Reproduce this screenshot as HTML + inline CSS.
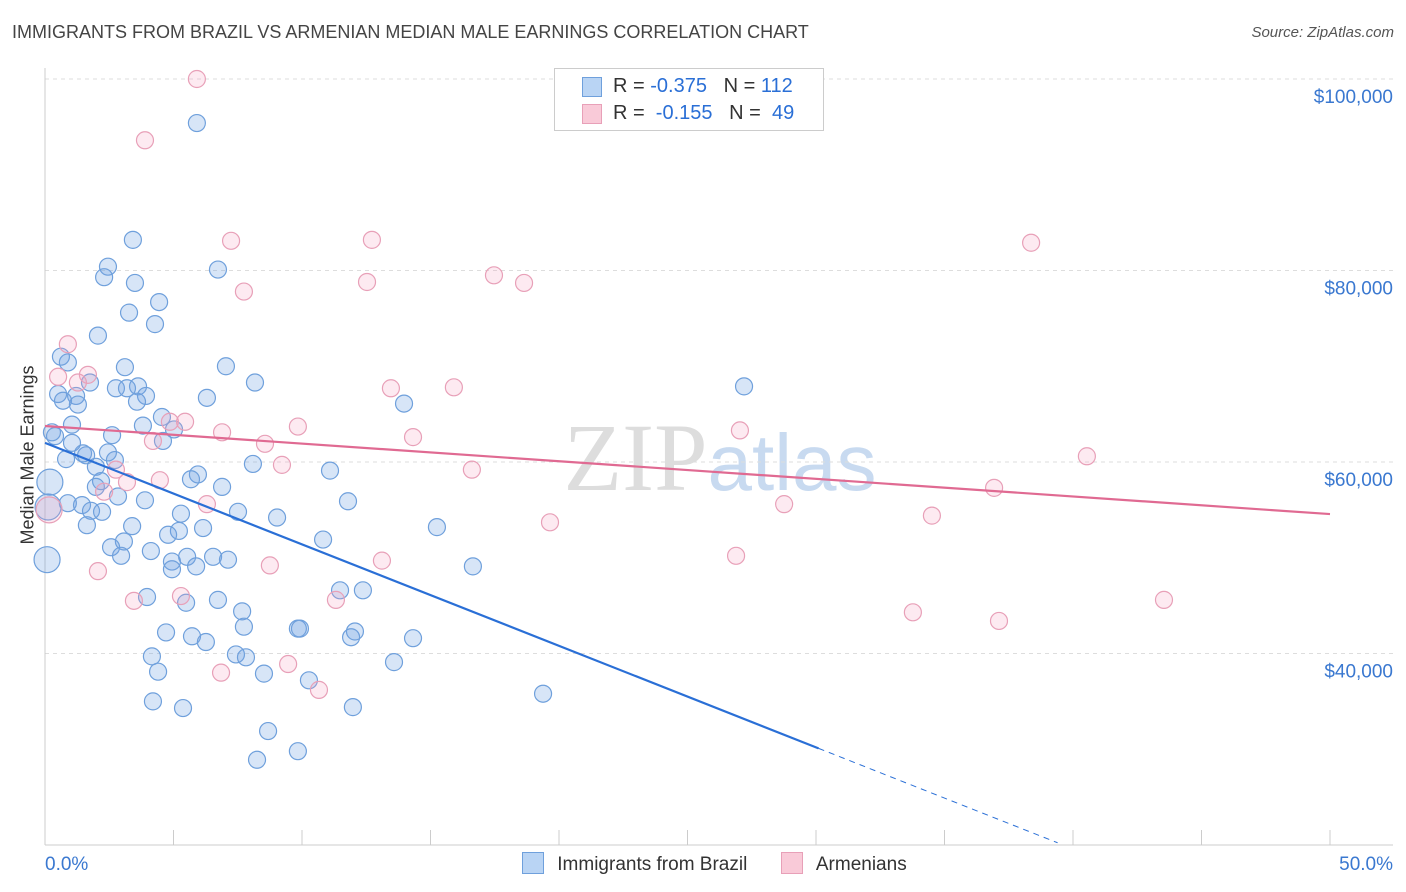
<!DOCTYPE html>
<html><head><meta charset="utf-8">
<style>
body{margin:0;background:#fff;font-family:"Liberation Sans",sans-serif;}
#wrap{position:relative;width:1406px;height:892px;overflow:hidden;}
.t{position:absolute;white-space:nowrap;}
</style></head>
<body><div id="wrap">
<div class="t" style="left:12px;top:22px;font-size:18px;color:#444;">IMMIGRANTS FROM BRAZIL VS ARMENIAN MEDIAN MALE EARNINGS CORRELATION CHART</div>
<div class="t" style="right:12px;top:24px;font-size:15px;color:#555;font-style:italic;">Source: ZipAtlas.com</div>
<svg id="svg" width="1406" height="892" style="position:absolute;left:0;top:0">
<text x="720" y="490" text-anchor="middle" font-size="96" font-family="Liberation Serif" fill="#ddd">ZIP<tspan fill="#c8daf0" font-family="Liberation Sans" font-size="80">atlas</tspan></text>
</svg>
<div class="t" style="left:28px;top:455px;font-size:18px;color:#333;transform:translate(-50%,-50%) rotate(-90deg);">Median Male Earnings</div>
<div style="position:absolute;left:554px;top:68px;width:268px;height:61px;border:1px solid #ccc;background:#fff;font-size:20px;">
 <div style="position:absolute;left:27px;top:8px;width:18px;height:18px;background:#b9d4f4;border:1px solid #6fa0dc"></div>
 <div class="t" style="left:58px;top:6px;color:#333">R = <span style="color:#2a6fd6">-0.375</span>&nbsp;&nbsp;&nbsp;N = <span style="color:#2a6fd6">112</span></div>
 <div style="position:absolute;left:27px;top:35px;width:18px;height:18px;background:#f9cad8;border:1px solid #e8a0b8"></div>
 <div class="t" style="left:58px;top:33px;color:#333">R = &nbsp;<span style="color:#2a6fd6">-0.155</span>&nbsp;&nbsp;&nbsp;N = &nbsp;<span style="color:#2a6fd6">49</span></div>
</div>
<div style="position:absolute;left:522px;top:852px;font-size:19px;color:#333;">
 <span style="display:inline-block;width:20px;height:20px;background:#b9d4f4;border:1px solid #6fa0dc;vertical-align:-4px"></span>
 <span style="margin-left:8px">Immigrants from Brazil</span>
 <span style="display:inline-block;width:20px;height:20px;background:#f9cad8;border:1px solid #e8a0b8;vertical-align:-4px;margin-left:28px"></span>
 <span style="margin-left:8px">Armenians</span>
</div>
</div>
<script>
const yTicks=[40000,60000,80000,100000];
const yTickLabels=["$40,000","$60,000","$80,000","$100,000"];
const xTickLabels=["0.0%","50.0%"];
const brazilX=[5.91,3.42,2.45,2.30,6.73,3.50,4.44,3.27,4.28,2.06,0.62,0.89,7.04,3.11,1.75,2.76,3.62,3.19,8.17,27.2,0.51,1.21,3.93,0.70,1.28,3.58,6.30,13.97,4.55,1.05,3.81,5.02,0.27,0.39,2.61,4.59,1.05,1.48,2.45,1.60,0.82,2.72,8.09,1.98,11.09,5.95,5.68,2.18,0.19,1.98,6.89,2.84,3.89,11.79,0.89,1.44,0.12,1.79,2.22,5.29,7.51,9.03,1.63,3.39,6.15,15.25,5.21,4.79,10.82,3.07,2.57,4.12,2.96,5.53,6.54,7.12,0.08,4.94,5.88,4.94,16.65,11.48,12.37,3.97,5.49,6.73,7.67,7.74,9.84,9.92,12.06,11.91,4.71,5.72,6.26,14.32,4.16,7.43,7.82,13.58,4.40,8.52,10.27,19.38,4.20,5.37,11.98,8.68,9.84,8.25];
const brazilY=[95.4,83.2,80.4,79.3,80.1,78.7,76.7,75.6,74.4,73.2,71.0,70.4,70.0,69.9,68.3,67.7,67.9,67.7,68.3,67.9,67.1,66.9,66.9,66.4,66.0,66.3,66.7,66.1,64.7,63.9,63.8,63.4,63.1,62.7,62.8,62.2,62.0,60.9,61.0,60.7,60.3,60.2,59.8,59.5,59.1,58.7,58.2,58.0,57.9,57.4,57.4,56.4,56.0,55.9,55.7,55.5,55.3,54.9,54.8,54.6,54.8,54.2,53.4,53.3,53.1,53.2,52.8,52.4,51.9,51.7,51.1,50.7,50.2,50.1,50.1,49.8,49.8,49.6,49.1,48.8,49.1,46.6,46.6,45.9,45.3,45.6,44.4,42.8,42.6,42.6,42.3,41.7,42.2,41.8,41.2,41.6,39.7,39.9,39.6,39.1,38.1,37.9,37.2,35.8,35.0,34.3,34.4,31.9,29.8,28.9];
const brazilBig=[48,56,76];
const armX=[5.91,3.89,7.24,12.72,38.37,17.47,12.53,18.64,7.74,0.89,0.51,1.67,1.28,13.46,15.91,4.86,5.45,9.84,6.89,27.04,14.32,4.20,8.56,40.54,9.22,16.61,2.76,4.47,3.19,2.30,36.93,6.30,28.76,0.16,34.51,19.65,26.89,13.11,8.75,2.06,5.29,3.46,11.32,43.54,33.77,37.12,9.46,6.85,10.66];
const armY=[100.0,93.6,83.1,83.2,82.9,79.5,78.8,78.7,77.8,72.3,68.9,69.1,68.3,67.7,67.8,64.2,64.2,63.7,63.1,63.3,62.6,62.2,61.9,60.6,59.7,59.2,59.2,58.1,57.9,56.9,57.3,55.6,55.6,55.0,54.4,53.7,50.2,49.7,49.2,48.6,46.0,45.5,45.6,45.6,44.3,43.4,38.9,38.0,36.2];
const armBig=[33];
const brazilTrend=[62.0,-1.06];
const brazilSolidEnd=30.1, brazilDashEnd=39.4;
const armTrend=[63.76,-0.184];

const X=p=>45+p*25.7;
const Y=k=>462-(k-60)*9.575;
const svg=document.getElementById('svg');
const NS='http://www.w3.org/2000/svg';
function mk(t,a){const e=document.createElementNS(NS,t);for(const k in a)e.setAttribute(k,a[k]);svg.appendChild(e);return e;}
yTicks.forEach((v,i)=>{
 const g=mk('line',{x1:45,x2:1393,y1:Y(v/1000),y2:Y(v/1000),stroke:'#ddd','stroke-dasharray':'4,4'});
 
 
 const t=mk('text',{x:1393,y:Y(v/1000)+24,'text-anchor':'end','font-size':19,fill:'#3a78d0'});
 t.textContent=yTickLabels[i];
 
 
});
const ax=mk('line',{x1:45,x2:45,y1:68,y2:845,stroke:'#ccc'});


const bx=mk('line',{x1:45,x2:1393,y1:845,y2:845,stroke:'#ccc'});


for(let i=0;i<=10;i++){
 const tk=mk('line',{x1:X(i*5),x2:X(i*5),y1:830,y2:845,stroke:'#ccc'});
 
 
}
[[0,'start',45],[1,'end',1393]].forEach(([i,a,x])=>{
 const t=mk('text',{x:x,y:870,'text-anchor':a,'font-size':19,fill:'#3a78d0'});
 t.textContent=xTickLabels[i];
 
 
});
brazilX.forEach((x,i)=>{
 const c=mk('circle',{cx:X(x),cy:Y(brazilY[i]),r:brazilBig.includes(i)?13:8.5,fill:'rgba(110,160,225,0.28)',stroke:'#6fa0dc','stroke-width':1.2});
 
 
});
armX.forEach((x,i)=>{
 const c=mk('circle',{cx:X(x),cy:Y(armY[i]),r:armBig.includes(i)?13:8.5,fill:'rgba(245,160,190,0.22)',stroke:'#e8a0b8','stroke-width':1.2});
 
 
});
const bf=p=>brazilTrend[0]+brazilTrend[1]*p;
const l1=mk('line',{x1:X(0),y1:Y(bf(0)),x2:X(brazilSolidEnd),y2:Y(bf(brazilSolidEnd)),stroke:'#2a6fd6','stroke-width':2.2});


const l2=mk('line',{x1:X(brazilSolidEnd),y1:Y(bf(brazilSolidEnd)),x2:X(brazilDashEnd),y2:Y(bf(brazilDashEnd)),stroke:'#2a6fd6','stroke-width':1,'stroke-dasharray':'6,5'});


const af=p=>armTrend[0]+armTrend[1]*p;
const l3=mk('line',{x1:X(0),y1:Y(af(0)),x2:X(50),y2:Y(af(50)),stroke:'#e06a92','stroke-width':2.2});


</script>
</body></html>
